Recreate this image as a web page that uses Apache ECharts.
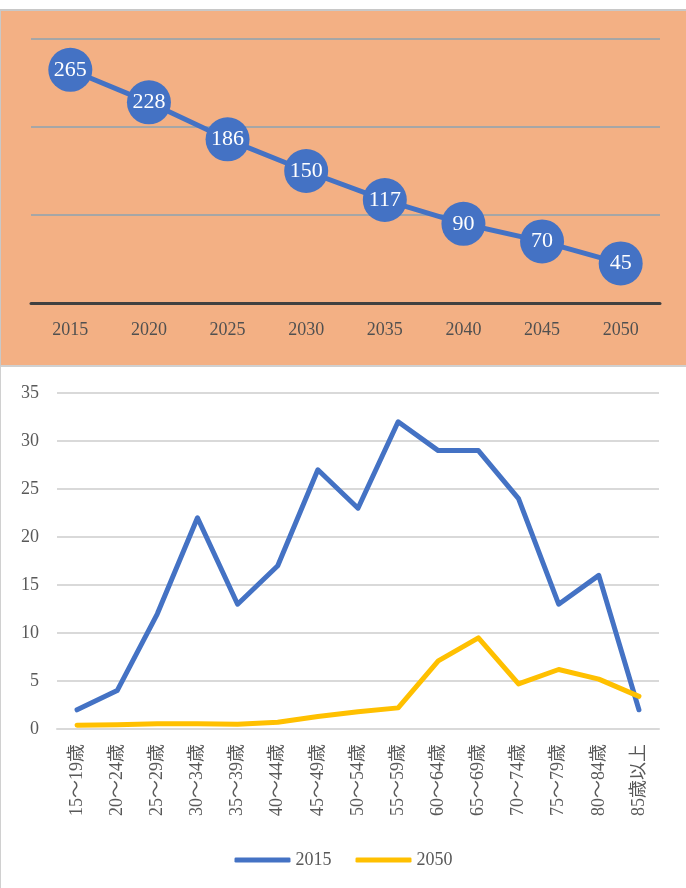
<!DOCTYPE html>
<html>
<head>
<meta charset="utf-8">
<script src="https://cdn.jsdelivr.net/npm/echarts@6/dist/echarts.min.js"></script>
<style>
  body { margin: 0; background: #fff; width: 686px; height: 888px; position: relative; overflow: hidden; }
  #top { position: absolute; left: 0; top: 9px; width: 685px; height: 354px; background: #F3B084;
         border-top: 2px solid #c8c8c8; border-left: 1px solid #c8c8c8; border-bottom: 2px solid #d0d0d0; }
  #bottom { position: absolute; left: 0; top: 367px; width: 685px; height: 521px; background: #fff;
            border-left: 1px solid #d0d0d0; }
</style>
</head>
<body>
<div id="top"></div>
<div id="bottom"></div>
<script>
// 上の図：年ごとの値
var years = ['2015', '2020', '2025', '2030', '2035', '2040', '2045', '2050'];
var yearValues = [265, 228, 186, 150, 117, 90, 70, 45];

// 下の図：年齢階級別
var ageGroups = ['15～19歳', '20～24歳', '25～29歳', '30～34歳', '35～39歳', '40～44歳', '45～49歳',
  '50～54歳', '55～59歳', '60～64歳', '65～69歳', '70～74歳', '75～79歳', '80～84歳', '85歳以上'];
var series2015 = [2, 4, 12, 22, 13, 17, 27, 23, 32, 29, 29, 24, 13, 16, 2];
var series2050 = [0.4, 0.45, 0.55, 0.55, 0.5, 0.7, 1.3, 1.8, 2.2, 7.1, 9.5, 4.7, 6.2, 5.2, 3.4];

var serif = '"Liberation Serif", "Noto Sans CJK JP", serif';

var topChart = echarts.init(document.getElementById('top'));
topChart.setOption({
  animation: false,
  grid: { top: 28, left: 30, right: 26, bottom: 62 },
  xAxis: {
    type: 'category',
    data: years,
    axisTick: { show: false },
    axisLine: { lineStyle: { color: '#404040', width: 3 } },
    axisLabel: { color: '#505050', fontSize: 18, fontFamily: serif, margin: 18 }
  },
  yAxis: {
    type: 'value',
    min: 0, max: 300, interval: 100,
    axisLabel: { show: false },
    axisLine: { show: false },
    axisTick: { show: false },
    splitLine: { lineStyle: { color: '#a6a6a6', width: 2 } }
  },
  series: [{
    type: 'line',
    data: yearValues,
    symbol: 'circle',
    symbolSize: 44,
    itemStyle: { color: '#4472C4' },
    lineStyle: { color: '#4472C4', width: 5 },
    label: {
      show: true, position: 'inside', color: '#fff',
      fontSize: 22, fontFamily: serif
    }
  }]
});

var bottomChart = echarts.init(document.getElementById('bottom'));
bottomChart.setOption({
  animation: false,
  grid: { top: 26, left: 56, right: 27, bottom: 159 },
  legend: {
    top: 479,
    left: 'center',
    itemWidth: 56, itemHeight: 5, itemGap: 24,
    icon: 'roundRect',
    textStyle: { color: '#595959', fontSize: 18, fontFamily: serif },
    data: ['2015', '2050']
  },
  xAxis: {
    type: 'category',
    data: ageGroups,
    axisTick: { show: false },
    axisLine: { lineStyle: { color: '#d9d9d9', width: 2 } },
    axisLabel: { color: '#595959', fontSize: 18, fontFamily: serif, rotate: 90, margin: 15, interval: 0 }
  },
  yAxis: {
    type: 'value',
    min: 0, max: 35, interval: 5,
    axisLine: { show: false },
    axisTick: { show: false },
    axisLabel: { color: '#595959', fontSize: 18, fontFamily: serif, margin: 18 },
    splitLine: { lineStyle: { color: '#d9d9d9', width: 2 } }
  },
  series: [{
    name: '2015',
    type: 'line',
    data: series2015,
    symbol: 'none',
    itemStyle: { color: '#4472C4' },
    lineStyle: { color: '#4472C4', width: 5, cap: 'round', join: 'round' }
  }, {
    name: '2050',
    type: 'line',
    data: series2050,
    symbol: 'none',
    itemStyle: { color: '#FFC000' },
    lineStyle: { color: '#FFC000', width: 5, cap: 'round', join: 'round' }
  }]
});
</script>
</body>
</html>
